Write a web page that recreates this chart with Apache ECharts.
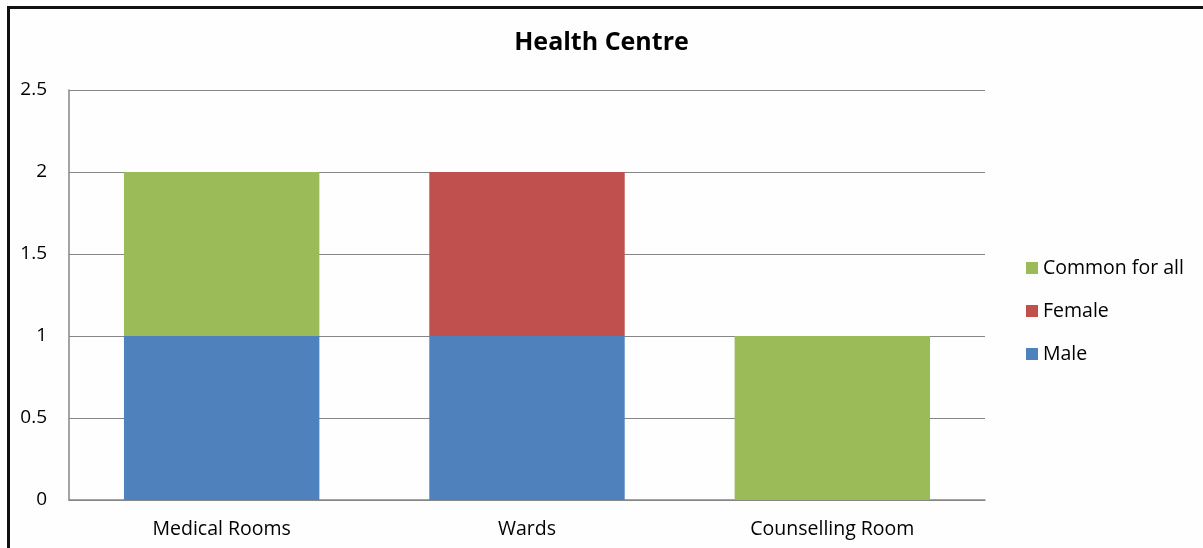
<!DOCTYPE html>
<html><head><meta charset="utf-8">
<script src="https://cdn.jsdelivr.net/npm/echarts@6/dist/echarts.min.js"></script>
<style>html,body{margin:0;padding:0;background:#fff}#c{width:1203px;height:548px}</style>
</head><body><div id="c"></div>
<script>
const categories = ['Medical Rooms', 'Wards', 'Counselling Room'];
const male = [1, 1, 0];
const female = [0, 1, 0];
const common = [1, 0, 1];
const yTicks = [0, 0.5, 1, 1.5, 2, 2.5];

const font = '"Open Sans", "Noto Sans", sans-serif';
const chart = echarts.init(document.getElementById('c'));
chart.setOption({
  backgroundColor: '#fefefe',
  animation: false,
  title: {text: 'Health Centre', left: 'center', top: 25, padding: 5,
    textStyle: {fontFamily: font, fontSize: 25, fontWeight: 'bold', color: '#000'}},
  graphic: [{type: 'rect', shape: {x: 8.5, y: 7.5, width: 1300, height: 700},
    style: {fill: 'none', stroke: '#111', lineWidth: 3}, silent: true}],
  legend: {orient: 'vertical', left: 1026, top: 258, padding: 0, itemGap: 23, itemWidth: 12, itemHeight: 12,
    data: ['Common for all', 'Female', 'Male'],
    textStyle: {fontFamily: font, fontSize: 19.5, color: '#000'},
    icon: 'rect'},
  grid: {left: 69, right: 218, top: 90, bottom: 48, containLabel: false},
  xAxis: {type: 'category', data: categories,
    axisLine: {lineStyle: {color: '#868686', width: 1.5}},
    axisTick: {show: false},
    axisLabel: {fontFamily: font, fontSize: 19.5, color: '#000', margin: 19}},
  yAxis: {type: 'value', min: 0, max: 2.5, interval: 0.5,
    axisLine: {show: true, lineStyle: {color: '#868686', width: 1.5}},
    axisTick: {show: false},
    splitLine: {lineStyle: {color: '#868686', width: 1.2}},
    axisLabel: {fontFamily: font, fontSize: 19, color: '#000', margin: 22,
      formatter: v => yTicks.includes(v) ? String(v) : ''}},
  series: [
    {name: 'Male', type: 'bar', stack: 's', data: male, barWidth: '64%', itemStyle: {color: '#4F81BD'}},
    {name: 'Female', type: 'bar', stack: 's', data: female, itemStyle: {color: '#C0504D'}},
    {name: 'Common for all', type: 'bar', stack: 's', data: common, itemStyle: {color: '#9BBB59'}}
  ]
});
</script></body></html>
